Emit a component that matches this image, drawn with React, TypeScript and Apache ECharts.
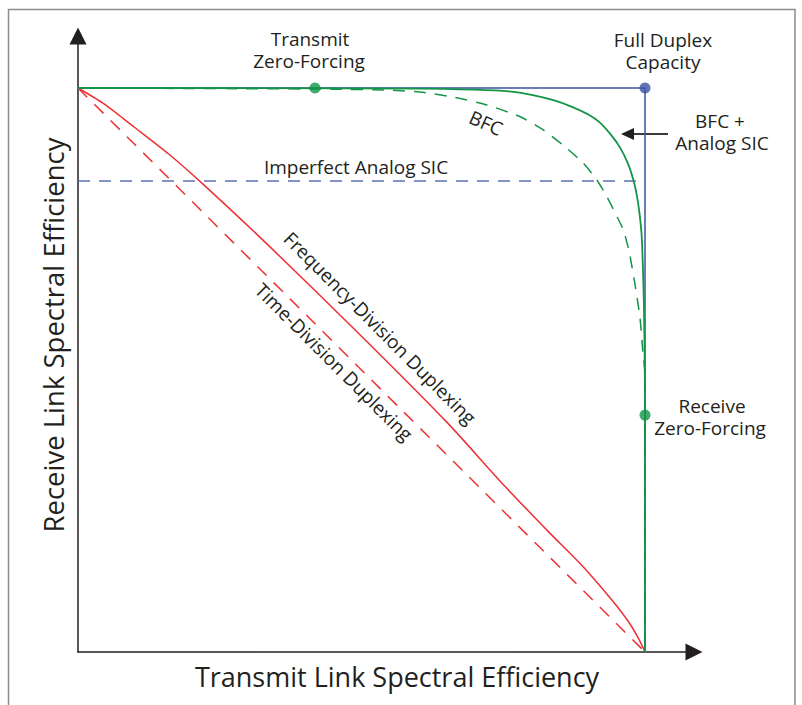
import React, { useEffect, useRef } from "react";
import * as echarts from "echarts";

const capacityX = [0, 1, 1];
const capacityY = [1, 1, 0];
const analogSicX = [0, 1];
const analogSicY = [0.835, 0.835];
const tddX = [0, 1];
const tddY = [1, 0];
const fddX = [0, 0.044, 0.1, 0.16, 0.22, 0.34, 0.5, 0.65, 0.75, 0.83, 0.89, 0.94, 0.97, 0.988, 1];
const fddY = [1, 0.973, 0.93, 0.883, 0.83, 0.717, 0.56, 0.408, 0.297, 0.213, 0.152, 0.094, 0.055, 0.025, 0];
const bfcX = [0, 0.45, 0.55, 0.603, 0.661, 0.721, 0.78, 0.82, 0.855, 0.891, 0.915, 0.933, 0.951, 0.962, 0.972, 0.982, 0.991, 0.996, 1, 1];
const bfcY = [1, 0.998, 0.996, 0.993, 0.984, 0.97, 0.949, 0.926, 0.899, 0.867, 0.837, 0.807, 0.771, 0.748, 0.71, 0.654, 0.594, 0.535, 0.49, 0];
const bfcSicX = [0, 0.6, 0.7, 0.76, 0.8, 0.84, 0.87, 0.9, 0.92, 0.94, 0.955, 0.97, 0.98, 0.986, 0.99, 0.994, 0.996, 0.998, 0.999, 1, 1];
const bfcSicY = [1, 0.999, 0.997, 0.994, 0.988, 0.978, 0.967, 0.953, 0.939, 0.917, 0.896, 0.866, 0.835, 0.807, 0.78, 0.74, 0.69, 0.62, 0.55, 0.45, 0];
const zfPointsX = [0.418, 1];
const zfPointsY = [1, 0.42];
const capPointX = [1];
const capPointY = [1];

const pairs = (xs: number[], ys: number[]) => xs.map((x, i) => [x, ys[i]]);

const TXT = "#231f20";
const FONT = "'Open Sans', 'Noto Sans', sans-serif";

export default function App() {
  const ref = useRef<HTMLDivElement>(null);
  useEffect(() => {
    if (!ref.current) return;
    const chart = echarts.init(ref.current, null, { renderer: "svg" });
    const lbl = (text: string, x: number, y: number, extra: any = {}) => ({
      type: "text",
      x,
      y,
      z: 100,
      ...extra,
      style: {
        text,
        fill: TXT,
        font: `19px ${FONT}`,
        textAlign: "center",
        textVerticalAlign: "middle",
        ...(extra.style || {}),
      },
    });
    chart.setOption({
      animation: false,
      grid: { left: 78, top: 36, right: 108, bottom: 53 },
      xAxis: {
        type: "value",
        min: 0,
        max: 1.0864,
        axisLine: {
          show: true,
          symbol: ["none", "triangle"],
          symbolSize: [17, 17],
          lineStyle: { color: "#231f20", width: 1.5 },
        },
        axisTick: { show: false },
        axisLabel: { show: false },
        splitLine: { show: false },
      },
      yAxis: {
        type: "value",
        min: 0,
        max: 1.0922,
        axisLine: {
          show: true,
          symbol: ["none", "triangle"],
          symbolSize: [17, 17],
          lineStyle: { color: "#231f20", width: 1.5 },
        },
        axisTick: { show: false },
        axisLabel: { show: false },
        splitLine: { show: false },
      },
      series: [
        {
          type: "line",
          data: pairs(capacityX, capacityY),
          showSymbol: false,
          lineStyle: { color: "#3953a4", width: 1.5 },
          z: 2,
        },
        {
          type: "line",
          data: pairs(analogSicX, analogSicY),
          showSymbol: false,
          lineStyle: { color: "#5b70b4", width: 1.5, type: [12, 9] },
          z: 2,
        },
        {
          type: "line",
          data: pairs(tddX, tddY),
          showSymbol: false,
          lineStyle: { color: "#ee3035", width: 1.5, type: [13, 10] },
          z: 3,
        },
        {
          type: "line",
          data: pairs(fddX, fddY),
          showSymbol: false,
          smooth: 0.25,
          lineStyle: { color: "#ee3035", width: 1.5 },
          z: 3,
        },
        {
          type: "line",
          data: pairs(bfcX, bfcY),
          showSymbol: false,
          smooth: 0.2,
          lineStyle: { color: "#139547", width: 1.5, type: [12, 9] },
          z: 4,
        },
        {
          type: "line",
          data: pairs(bfcSicX, bfcSicY),
          showSymbol: false,
          smooth: 0.25,
          lineStyle: { color: "#139547", width: 1.8 },
          z: 5,
        },
        {
          type: "scatter",
          data: pairs(zfPointsX, zfPointsY),
          symbolSize: 11,
          itemStyle: { color: "#139547" },
          z: 6,
        },
        {
          type: "scatter",
          data: pairs(capPointX, capPointY),
          symbolSize: 11,
          itemStyle: { color: "#3953a4" },
          z: 6,
        },
      ],
      graphic: [
        {
          type: "rect",
          shape: { x: 8.5, y: 9.5, width: 786.5, height: 720 },
          style: { fill: "none", stroke: "#8c8c8c", lineWidth: 1.5 },
          silent: true,
        },
        lbl("Transmit", 310, 39),
        lbl("Zero-Forcing", 309, 61),
        lbl("Full Duplex", 663, 40),
        lbl("Capacity", 663, 62),
        lbl("BFC +", 720, 121),
        lbl("Analog SIC", 722, 143),
        lbl("Imperfect Analog SIC", 356, 167),
        lbl("BFC", 486, 123, { rotation: -0.42 }),
        lbl("Receive", 712, 406),
        lbl("Zero-Forcing", 710, 428),
        lbl("Frequency-Division Duplexing", 380, 328, { rotation: -Math.PI / 4 }),
        lbl("Time-Division Duplexing", 334, 362, { rotation: -Math.PI / 4 }),
        {
          type: "line",
          shape: { x1: 668, y1: 134, x2: 630, y2: 134 },
          style: { stroke: "#3a3a3a", lineWidth: 1.8 },
        },
        {
          type: "polygon",
          shape: { points: [[621, 134], [634, 128], [634, 140]] },
          style: { fill: "#231f20" },
        },
        {
          type: "text",
          x: 397,
          y: 676,
          style: {
            text: "Transmit Link Spectral Efficiency",
            fill: TXT,
            font: `27px ${FONT}`,
            textAlign: "center",
            textVerticalAlign: "middle",
          },
        },
        {
          type: "text",
          x: 53,
          y: 335,
          rotation: Math.PI / 2,
          style: {
            text: "Receive Link Spectral Efficiency",
            fill: TXT,
            font: `27.5px ${FONT}`,
            textAlign: "center",
            textVerticalAlign: "middle",
          },
        },
      ],
    });
    return () => chart.dispose();
  }, []);
  return (
    <div
      ref={ref}
      style={{ position: "absolute", left: 0, top: 0, width: 802, height: 705, background: "#fff" }}
    />
  );
}
